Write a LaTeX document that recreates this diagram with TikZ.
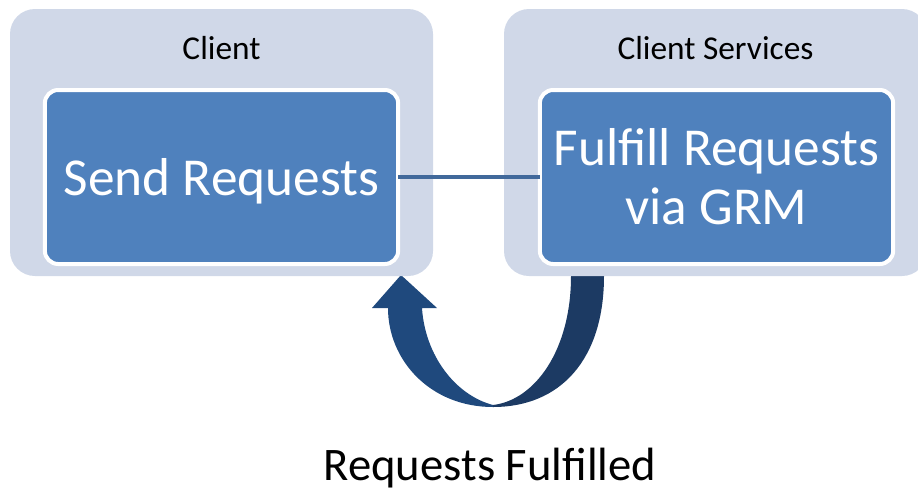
\documentclass[tikz,border=0pt]{standalone}
\usepackage{fontspec}
\setmainfont{Carlito}
\usepackage{xcolor}
\usepackage{tikz}
\usetikzlibrary{positioning}
\definecolor{groupgray}{RGB}{208,216,232}
\definecolor{taskblue}{RGB}{79,129,189}
\definecolor{linkblue}{RGB}{65,105,155}
\definecolor{returnblue}{RGB}{31,73,125}
\definecolor{returndark}{RGB}{28,58,99}
\tikzset{
  px/.style={x={(0.75pt,0)},y={(0,-0.75pt)}},
  group/.style={rectangle,rounded corners=18.75pt,fill=groupgray,
    minimum width=317.25pt,minimum height=200.25pt,inner sep=0pt,outer sep=0pt},
  task/.style={rectangle,rounded corners=10pt,fill=taskblue,draw=white,
    line width=3pt,minimum width=265pt,minimum height=130.5pt,inner sep=0pt,
    outer sep=0pt,text=white,align=center,font=\fontsize{40}{44}\selectfont},
  grouptitle/.style={anchor=base,inner sep=0pt,font=\fontsize{25}{30}\selectfont},
  caption/.style={anchor=base,inner sep=0pt,font=\fontsize{35}{42}\selectfont},
  link/.style={draw=linkblue,line width=3pt},
  return left/.style={fill=returnblue},
  return right/.style={fill=returndark}}

\begin{document}
\begin{tikzpicture}[px]
  \useasboundingbox (0,0) rectangle (918,494);
  % the curved return arrow
  \fill[return right] (571,268) -- (571,276) .. controls (571,350) and (535,400) .. (493,405)
     -- (493,407) .. controls (560,407) and (604,360) .. (604,276) -- (604,268) -- cycle;
  \fill[return left] (401,275) -- (437,308) -- (422,308) .. controls (425,355) and (455,395) .. (493,405)
     -- (493,407) .. controls (430,407) and (388,360) .. (388,308) -- (372,308) -- cycle;
  % groups
  \node[group] (client) at (221.5,142.5) {};
  \node[group] (services) [right=53.25pt of client] {};
  \node[grouptitle] (clienttitle) at ([yshift=-37.5pt]client.north) {Client};
  \node[grouptitle] (servicestitle) at ([yshift=-37.5pt]services.north) {Client Services};
  % tasks
  \node[task,text depth=0pt] (send) [below=60.75pt of client.north] {Send Requests};
  \node[task] (fulfill) [below=60.75pt of services.north, xshift=0.75pt] {Fulfill Requests\\via GRM};
  \draw[link] (send) -- (fulfill);
  \node[caption] (fulfilled) at (490,480) {Requests Fulfilled};
\end{tikzpicture}
\end{document}
